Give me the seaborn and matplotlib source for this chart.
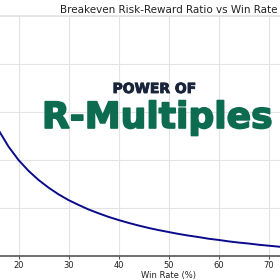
import matplotlib
matplotlib.use("Agg")
import matplotlib.pyplot as plt
import matplotlib.patheffects as pe
import seaborn as sns
import pandas as pd

# Data (win rate %, breakeven risk-reward ratio)
win_rate = [10, 12, 14, 16, 18, 20, 22, 24, 26, 28, 30, 32, 34, 36, 38, 40,
            42, 44, 46, 48, 50, 52, 54, 56, 58, 60, 62, 64, 66, 68, 70, 72,
            74, 76, 78, 80, 82, 84, 86, 88, 90]
breakeven_rr = [9.00, 7.33, 6.14, 5.25, 4.56, 4.00, 3.55, 3.17, 2.85, 2.57,
                2.33, 2.13, 1.94, 1.78, 1.63, 1.50, 1.38, 1.27, 1.17, 1.08,
                1.00, 0.92, 0.85, 0.79, 0.72, 0.67, 0.61, 0.56, 0.52, 0.47,
                0.43, 0.39, 0.35, 0.32, 0.28, 0.25, 0.22, 0.19, 0.16, 0.14, 0.11]
x_ticks = [20, 30, 40, 50, 60, 70]
y_ticks = [0, 2, 4, 6, 8, 10]

title = "Breakeven Risk-Reward Ratio vs Win Rate"
x_label = "Win Rate (%)"
overlay_top = "POWER OF"
overlay_main = "R-Multiples"

df = pd.DataFrame({"win_rate": win_rate, "rr": breakeven_rr})

sns.set_theme(style="whitegrid")
plt.rcParams["font.family"] = ["DejaVu Sans"]

fig = plt.figure(figsize=(2.8, 2.8), dpi=100)
fig.patch.set_facecolor("white")
ax = fig.add_axes([-31.5 / 280, 24 / 280, 400 / 280, 240 / 280])

sns.lineplot(data=df, x="win_rate", y="rr", color="#0a0a8c", linewidth=1.4, ax=ax)

ax.set_xlim(10, 90)
ax.set_ylim(0, 10)
ax.set_xticks(x_ticks)
ax.set_yticks(y_ticks)
ax.set_yticklabels([])
ax.grid(True, color="#e3e3e3", linewidth=0.8)
ax.set_title(title, fontsize=7.5, pad=2, color="#222222")
ax.set_xlabel(x_label, fontsize=6, labelpad=1, color="#222222")
ax.set_ylabel("")
ax.tick_params(axis="x", labelsize=6, length=2.5, pad=1, bottom=True,
               color="#555555", labelcolor="#222222", width=0.8)
ax.tick_params(axis="y", left=False, length=0)
for side in ["top", "right", "left"]:
    ax.spines[side].set_color("#e3e3e3")
ax.spines["bottom"].set_color("#555555")
ax.spines["bottom"].set_linewidth(1.2)

fig.text(154.5 / 280, (280 - 93) / 280, overlay_top, fontsize=10, fontweight="bold",
         color="#17243a", ha="center", va="baseline",
         path_effects=[pe.withStroke(linewidth=0.6, foreground="#17243a")])
fig.text(157.5 / 280, (280 - 128) / 280, overlay_main, fontsize=26, fontweight="bold",
         color="#0d6b50", ha="center", va="baseline",
         path_effects=[pe.withStroke(linewidth=1.2, foreground="#0d6b50")])

fig.savefig("out.png", dpi=100, facecolor="white")
